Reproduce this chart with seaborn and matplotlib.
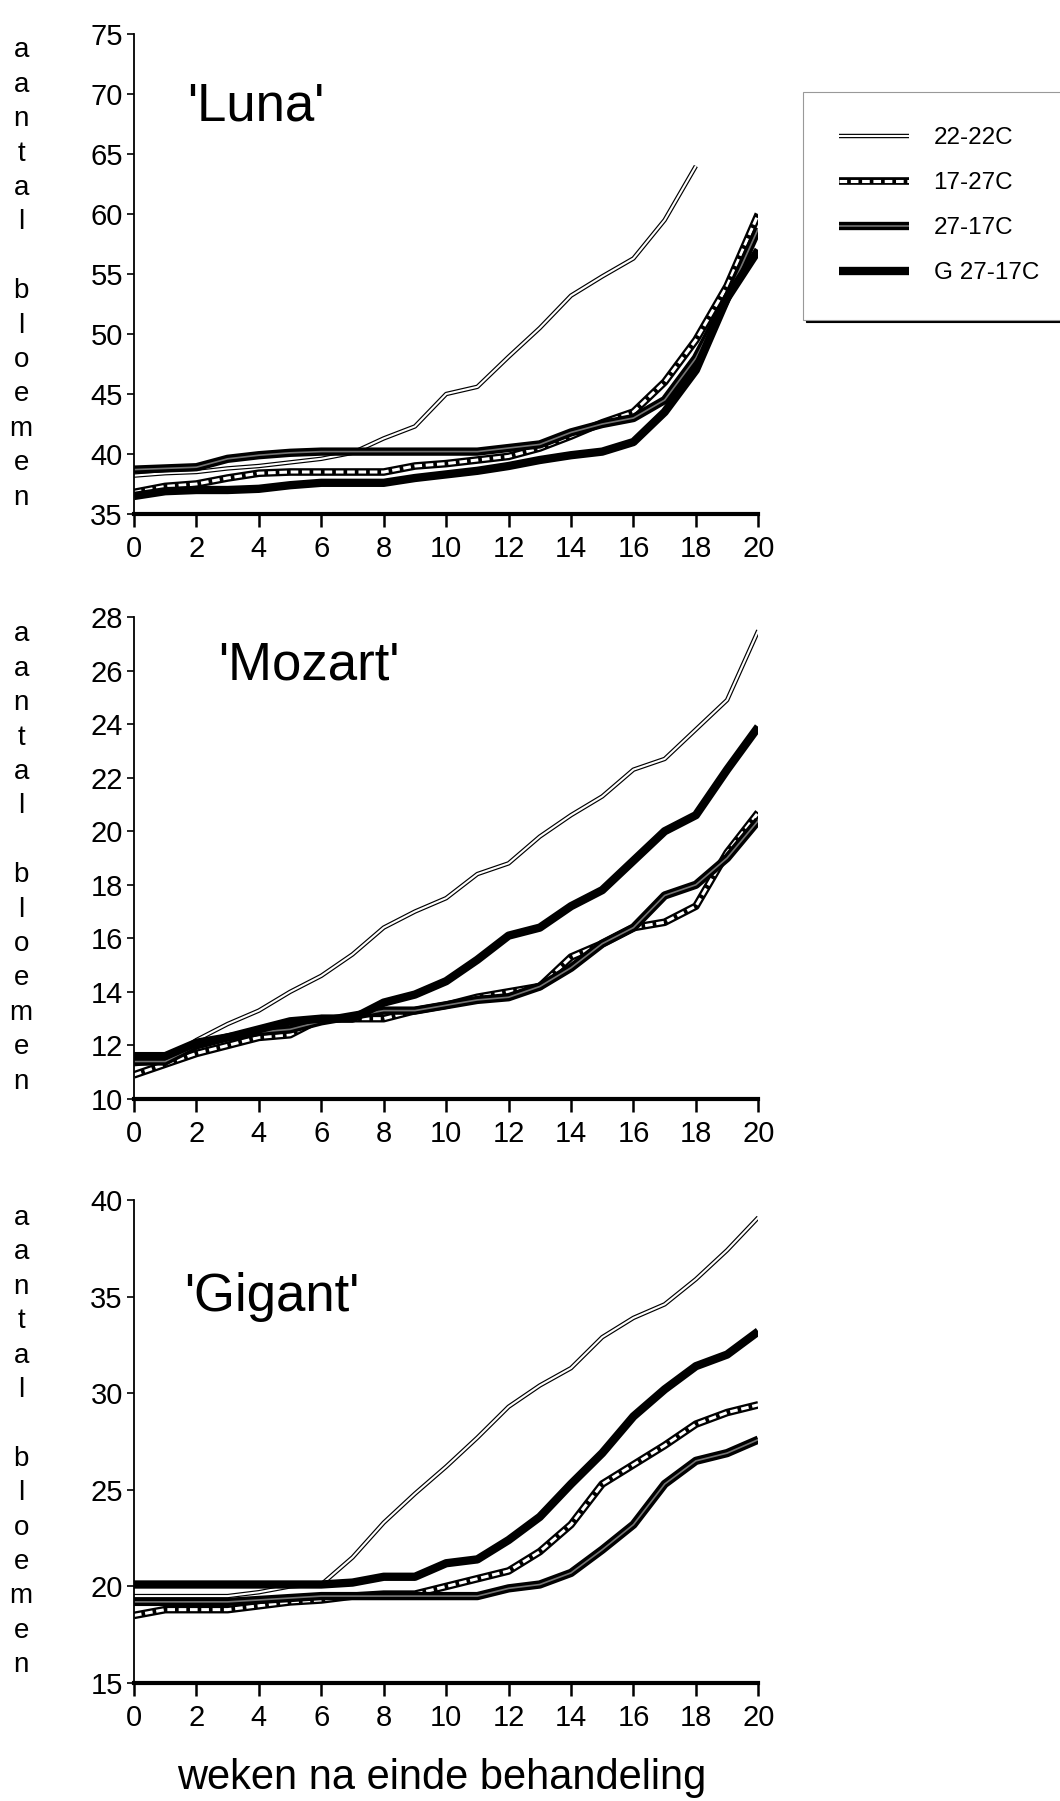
import numpy as np
import pandas as pd
import seaborn as sns
import matplotlib.pyplot as plt
from matplotlib.lines import Line2D
from matplotlib.legend_handler import HandlerTuple

sns.set_style("ticks")
plt.rcParams["font.family"] = ["Liberation Sans", "DejaVu Sans"]
plt.rcParams["text.color"] = "black"
plt.rcParams["xtick.color"] = "black"
plt.rcParams["ytick.color"] = "black"

weken = list(range(21))
behandelingen = ["22-22C", "17-27C", "27-17C", "G 27-17C"]

# 'Luna'
luna_22_22 = [38.2, 38.4, 38.5, 38.8, 39.0, 39.3, 39.6, 40.1, 41.3, 42.3, 45.0,
              45.6, 48.1, 50.5, 53.2, 54.8, 56.3, 59.5, 64.0, np.nan, np.nan]
luna_17_27 = [36.8, 37.3, 37.5, 38.0, 38.4, 38.5, 38.5, 38.5, 38.5, 39.0, 39.2,
              39.5, 39.8, 40.5, 41.5, 42.6, 43.5, 46.0, 49.5, 54.0, 60.0]
luna_27_17 = [38.7, 38.8, 38.9, 39.6, 39.9, 40.1, 40.2, 40.2, 40.2, 40.2, 40.2,
              40.2, 40.5, 40.8, 41.8, 42.5, 43.0, 44.5, 48.0, 53.0, 58.8]
luna_g27_17 = [36.5, 36.9, 37.0, 37.0, 37.1, 37.4, 37.6, 37.6, 37.6, 38.0, 38.3,
               38.6, 39.0, 39.5, 39.9, 40.2, 41.0, 43.5, 47.0, 53.0, 57.0]

# 'Mozart'
mozart_22_22 = [11.3, 11.4, 12.2, 12.8, 13.3, 14.0, 14.6, 15.4, 16.4, 17.0, 17.5,
                18.4, 18.8, 19.8, 20.6, 21.3, 22.3, 22.7, 23.8, 24.9, 27.5]
mozart_17_27 = [10.9, 11.3, 11.7, 12.0, 12.3, 12.4, 13.0, 13.0, 13.0, 13.3, 13.5,
                13.8, 14.0, 14.2, 15.3, 15.8, 16.4, 16.6, 17.2, 19.2, 20.7]
mozart_27_17 = [11.4, 11.4, 12.0, 12.3, 12.5, 12.6, 12.9, 13.1, 13.3, 13.3, 13.5,
                13.7, 13.8, 14.2, 14.9, 15.8, 16.4, 17.6, 18.0, 19.0, 20.4]
mozart_g27_17 = [11.6, 11.6, 12.1, 12.3, 12.6, 12.9, 13.0, 13.0, 13.6, 13.9, 14.4,
                 15.2, 16.1, 16.4, 17.2, 17.8, 18.9, 20.0, 20.6, 22.3, 23.9]

# 'Gigant'
gigant_22_22 = [19.5, 19.5, 19.5, 19.5, 19.7, 20.0, 20.1, 21.5, 23.3, 24.8, 26.2,
                27.7, 29.3, 30.4, 31.3, 32.9, 33.9, 34.6, 35.9, 37.4, 39.1]
gigant_17_27 = [18.5, 18.8, 18.8, 18.8, 19.0, 19.2, 19.3, 19.5, 19.6, 19.6, 20.0,
                20.4, 20.8, 21.8, 23.2, 25.3, 26.3, 27.3, 28.4, 29.0, 29.4]
gigant_27_17 = [19.2, 19.2, 19.2, 19.2, 19.3, 19.4, 19.5, 19.5, 19.5, 19.5, 19.5,
                19.5, 19.9, 20.1, 20.7, 21.9, 23.2, 25.3, 26.5, 26.9, 27.6]
gigant_g27_17 = [20.1, 20.1, 20.1, 20.1, 20.1, 20.1, 20.1, 20.2, 20.5, 20.5, 21.2,
                 21.4, 22.4, 23.6, 25.3, 26.9, 28.8, 30.2, 31.4, 32.0, 33.2]

panelen = [
    ("'Luna'", [luna_22_22, luna_17_27, luna_27_17, luna_g27_17],
     (35, 75), [35, 40, 45, 50, 55, 60, 65, 70, 75], (0.085, 0.85)),
    ("'Mozart'", [mozart_22_22, mozart_17_27, mozart_27_17, mozart_g27_17],
     (10, 28), list(range(10, 29, 2)), (0.135, 0.90)),
    ("'Gigant'", [gigant_22_22, gigant_17_27, gigant_27_17, gigant_g27_17],
     (15, 40), [15, 20, 25, 30, 35, 40], (0.08, 0.80)),
]

# each treatment = black outer line + optional inner line
stijlen = {
    "22-22C": [dict(color="black", lw=3.2), dict(color="white", lw=1.5)],
    "17-27C": [dict(color="black", lw=5.5), dict(color="white", lw=2.2, dashes=(2.5, 1.2))],
    "27-17C": [dict(color="black", lw=6.0), dict(color="0.45", lw=1.2)],
    "G 27-17C": [dict(color="black", lw=6.0)],
}

fig = plt.figure(figsize=(10.6, 18.01), dpi=100)
posities = [[0.1264, 0.7146, 0.589, 0.2665],
            [0.1264, 0.3898, 0.589, 0.2676],
            [0.1264, 0.0655, 0.589, 0.2682]]

for pos, (naam, reeksen, ylim, yticks, titelpos) in zip(posities, panelen):
    ax = fig.add_axes(pos)
    for beh, waarden in zip(behandelingen, reeksen):
        df = pd.DataFrame({"week": weken, "aantal": waarden}).dropna()
        for st in stijlen[beh]:
            sns.lineplot(data=df, x="week", y="aantal", ax=ax,
                         solid_capstyle="butt", solid_joinstyle="round", **st)
    ax.set_xlim(0, 20)
    ax.set_ylim(*ylim)
    ax.set_xticks(range(0, 21, 2))
    ax.set_yticks(yticks)
    ax.set_xlabel("")
    ax.set_ylabel("")
    sns.despine(ax=ax)
    ax.spines["left"].set_linewidth(1.3)
    ax.spines["left"].set_color("black")
    ax.spines["bottom"].set_linewidth(3)
    ax.spines["bottom"].set_color("black")
    ax.spines["bottom"].set_zorder(5)
    ax.tick_params(axis="y", length=5, width=1.2, labelsize=21, pad=3)
    ax.tick_params(axis="x", length=9, width=1.8, labelsize=21, pad=6)
    ax.text(titelpos[0], titelpos[1], naam, transform=ax.transAxes,
            fontsize=38, va="center", ha="left")
    # vertical stacked y label
    fig.text(0.02, pos[1] + pos[3] / 2, "\n".join("aantal bloemen"),
             fontsize=20, ha="center", va="center", linespacing=1.42)

fig.text(0.417, 0.013, "weken na einde behandeling", fontsize=30, ha="center", va="center")

# legend
handles = []
for beh in behandelingen:
    delen = tuple(Line2D([], [], solid_capstyle="butt", **st) for st in stijlen[beh])
    handles.append(delen)
leg = fig.legend(handles, behandelingen, loc="upper left",
                 bbox_to_anchor=(0.758, 0.949), fontsize=17.5,
                 handler_map={tuple: HandlerTuple(ndivide=1, pad=0)},
                 handlelength=2.9, handletextpad=1.0, labelspacing=0.95,
                 borderpad=1.45, borderaxespad=0, frameon=True, fancybox=False,
                 shadow=dict(color="black", alpha=1))
leg.get_frame().set_edgecolor("0.6")
leg.get_frame().set_linewidth(0.8)

fig.savefig("out.png", dpi=100, facecolor="white")
